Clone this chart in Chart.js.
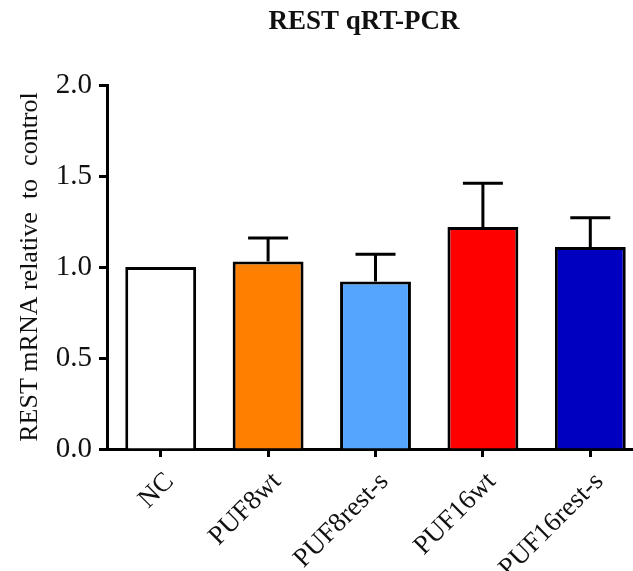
<!DOCTYPE html>
<html>
<head>
<meta charset="utf-8">
<title>REST qRT-PCR</title>
<script src="https://cdn.jsdelivr.net/npm/chart.js@4/dist/chart.umd.min.js"></script>
<style>
    html, body { margin: 0; padding: 0; background: #fff; overflow: hidden; }
    #wrap { width: 633px; height: 571px; overflow: hidden; }
</style>
</head>
<body>
<div id="wrap"><canvas id="chart" width="644" height="571"></canvas></div>
<script>
// ============================================================
// REST qRT-PCR — bar chart with SEM error bars (upper only)
// ============================================================

const CATEGORIES = ["NC", "PUF8wt", "PUF8rest-s", "PUF16wt", "PUF16rest-s"];
const MEANS = [1.00, 1.03, 0.92, 1.22, 1.11];
const ERRORS = [0.00, 0.13, 0.15, 0.24, 0.16];
const BAR_COLORS = ["#ffffff", "#ff8000", "#55a5ff", "#ff0000", "#0000c0"];
const Y_TICKS = [0, 0.5, 1.0, 1.5, 2.0];

const SERIF = "'Liberation Serif', 'DejaVu Serif', serif";

// upward error bars with a flat cap
const errorBars = {
    id: "errorBars",
    afterDatasetsDraw(chart) {
        const ctx = chart.ctx;
        const y = chart.scales.y;
        const meta = chart.getDatasetMeta(0);
        ctx.save();
        ctx.strokeStyle = "#000";
        ctx.lineWidth = 3;
        ctx.lineCap = "butt";
        meta.data.forEach((bar, i) => {
            if (!ERRORS[i]) return;
            const yTop = y.getPixelForValue(MEANS[i] + ERRORS[i]);
            const yBase = y.getPixelForValue(MEANS[i]);
            ctx.beginPath();
            ctx.moveTo(bar.x, yBase);
            ctx.lineTo(bar.x, yTop);
            ctx.moveTo(bar.x - 20, yTop);
            ctx.lineTo(bar.x + 20, yTop);
            ctx.stroke();
        });
        ctx.restore();
    }
};

// title centred over the plot, as in the original figure
const plotTitle = {
    id: "plotTitle",
    afterDraw(chart) {
        const ctx = chart.ctx;
        ctx.save();
        ctx.font = "bold 27px " + SERIF;
        ctx.fillStyle = "#111";
        ctx.textAlign = "center";
        ctx.textBaseline = "middle";
        ctx.fillText("REST qRT-PCR", 364, 22);
        ctx.restore();
    }
};

new Chart(document.getElementById("chart"), {
    type: "bar",
    data: {
        labels: CATEGORIES,
        datasets: [{
            data: MEANS,
            backgroundColor: BAR_COLORS,
            borderColor: "#000",
            borderWidth: 3,
            borderSkipped: "bottom",
            barPercentage: 0.66,
            categoryPercentage: 1.0
        }]
    },
    options: {
        responsive: false,
        animation: false,
        devicePixelRatio: 1,
        layout: { padding: { top: 85, right: 0, left: 0, bottom: 0 } },
        plugins: {
            legend: { display: false },
            tooltip: { enabled: false },
            title: { display: false }
        },
        scales: {
            x: {
                offset: true,
                border: { display: true, color: "#000", width: 3 },
                grid: {
                    offset: false,
                    drawOnChartArea: false,
                    drawTicks: true,
                    tickLength: 8,
                    tickWidth: 3,
                    tickColor: "#000"
                },
                ticks: {
                    minRotation: 45,
                    maxRotation: 45,
                    color: "#111",
                    padding: 9,
                    labelOffset: 9,
                    font: { family: SERIF, size: 27 }
                },
                afterFit(scale) { scale.height = 122; }
            },
            y: {
                min: 0,
                max: 2,
                border: { display: true, color: "#000", width: 3 },
                grid: {
                    drawOnChartArea: false,
                    drawTicks: true,
                    tickLength: 8,
                    tickWidth: 3,
                    tickColor: "#000"
                },
                afterBuildTicks(scale) {
                    scale.ticks = Y_TICKS.map(v => ({ value: v }));
                },
                ticks: {
                    color: "#111",
                    padding: 7,
                    font: { family: SERIF, size: 29 },
                    callback: v => Number(v).toFixed(1)
                },
                title: {
                    display: true,
                    text: "REST mRNA relative  to  control",
                    color: "#111",
                    padding: { top: 15, bottom: 0 },
                    font: { family: SERIF, size: 26 }
                },
                afterFit(scale) { scale.width = 107; }
            }
        }
    },
    plugins: [errorBars, plotTitle]
});
</script>
</body>
</html>
